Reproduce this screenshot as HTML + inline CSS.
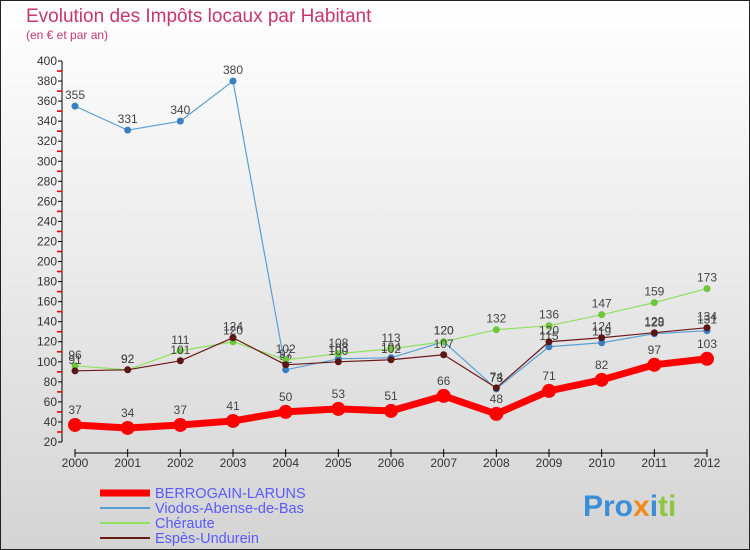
<!DOCTYPE html>
<html><head><meta charset="utf-8"><style>
body{margin:0;}
#c{width:750px;height:550px;position:relative;overflow:hidden;font-family:"Liberation Sans",sans-serif;}
</style></head><body>
<div id="c">
<svg id="s" width="750" height="550" xmlns="http://www.w3.org/2000/svg">
<defs><linearGradient id="bg" x1="0" y1="0" x2="0" y2="1"><stop offset="0" stop-color="#ffffff"/><stop offset="1" stop-color="#d4d4d4"/></linearGradient></defs>
<rect x="0.5" y="0.5" width="749" height="549" fill="url(#bg)" stroke="#222"/>
<text x="26" y="22" font-size="19" fill="#c8366e">Evolution des Impôts locaux par Habitant</text>
<text x="26" y="39" font-size="12" fill="#c8366e">(en € et par an)</text>
<g id="axes"></g><g id="series"></g><g id="legend"></g>
<text x="583" y="516" font-size="30" font-weight="bold"><tspan fill="#3a8fd8">Pro</tspan><tspan fill="#f08a1c">x</tspan><tspan fill="#3a8fd8">i</tspan><tspan fill="#8dc63f">ti</tspan></text>
</svg>
</div>
<script>
const years=["2000","2001","2002","2003","2004","2005","2006","2007","2008","2009","2010","2011","2012"];
const berrogain=[37,34,37,41,50,53,51,66,48,71,82,97,103];
const viodos=[355,331,340,380,92,103,104,120,73,115,119,128,131];
const cheraute=[96,92,111,120,102,108,113,120,132,136,147,159,173];
const espes=[91,92,101,124,97,100,102,107,74,120,124,129,134];
const yTicks=[20,40,60,80,100,120,140,160,180,200,220,240,260,280,300,320,340,360,380,400];
const NS="http://www.w3.org/2000/svg";
const x=i=>75+i*(707-75)/(years.length-1);
const y=v=>442-(v-20)*(442-61)/380;
function el(t,a,p){const e=document.createElementNS(NS,t);for(const k in a)e.setAttribute(k,a[k]);p.appendChild(e);return e;}
const ax=document.getElementById('axes');
const yl=el('line',{x1:62,y1:61,x2:62,y2:442,stroke:'#000'},ax);


yTicks.forEach((v,i)=>{
  el('line',{x1:58,y1:y(v),x2:62,y2:y(v),stroke:'#000'},ax);
  if(i<yTicks.length-1)el('line',{x1:57,y1:y(v+10),x2:62,y2:y(v+10),stroke:'#ee0000','stroke-width':1.6},ax);
  const t=el('text',{x:57,y:y(v)+4,'font-size':12,'text-anchor':'end',fill:'#333'},ax);
  t.textContent=v;
  
  
});
const xl=el('line',{x1:75,y1:453,x2:707,y2:453,stroke:'#000'},ax);


years.forEach((yr,i)=>{
  el('line',{x1:x(i),y1:449,x2:x(i),y2:457,stroke:'#000'},ax);
  const t=el('text',{x:x(i),y:467,'font-size':12,'text-anchor':'middle',fill:'#333'},ax);
  t.textContent=yr;
  
  
});
const sg=document.getElementById('series');
function series(data,color,w,r,dot,name,lblOff){
  const g=el('g',{},sg);
  
  
  el('polyline',{points:data.map((v,i)=>x(i)+','+y(v)).join(' '),fill:'none',stroke:color,'stroke-width':w,'stroke-linejoin':'round'},g);
  data.forEach((v,i)=>{
    const c=el('circle',{cx:x(i),cy:y(v),r:r,fill:dot},g);
    
    
    const t=el('text',{x:x(i),y:y(v)-lblOff,'font-size':12,'text-anchor':'middle',fill:'#444'},g);
    t.textContent=v;
  });
}
series(viodos,'#5a9fd4',1.2,3.5,'#3a7fc0','series-viodos',7);
series(cheraute,'#8fe060',1.2,3.5,'#6cc83a','series-cheraute',7);
series(espes,'#6b1a1a',1.2,3.5,'#5a1515','series-espes',7);
series(berrogain,'#ff0000',7,7,'#ff0000','series-berrogain',11);
const lg=document.getElementById('legend');
const items=[["BERROGAIN-LARUNS","#ff0000",7],["Viodos-Abense-de-Bas","#5a9fd4",2],["Chéraute","#8fe060",2],["Espès-Undurein","#6b1a1a",2]];
items.forEach((it,i)=>{
  const yy=493+i*15;
  const g=el('g',{},lg);
  
  
  el('line',{x1:100,y1:yy,x2:150,y2:yy,stroke:it[1],'stroke-width':it[2]},g);
  const t=el('text',{x:155,y:yy+5,'font-size':14.5,fill:'#5a5aff'},g);
  t.textContent=it[0];
});
</script>
</body></html>
